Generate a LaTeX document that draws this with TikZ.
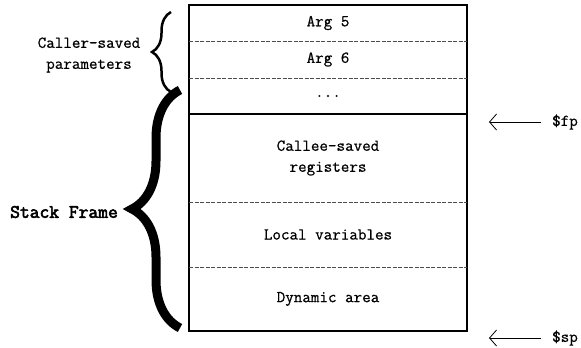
\documentclass[tikz,border=0pt]{standalone}
\usepackage{fontspec}
\newfontfamily\slotfont{Latin Modern Mono}[RawFeature={embolden=0.7}]
\newfontfamily\framefont{Latin Modern Mono}[RawFeature={embolden=3}]
\usetikzlibrary{positioning,decorations.pathreplacing,arrows.meta}

\tikzset{
	slot/.style={minimum width=278pt,inner sep=0pt,outer sep=0pt,align=center,font=\slotfont\fontsize{16.6}{21}\selectfont},
	divider/.style={dash pattern=on 4pt off 1.5pt,line width=0.6pt,gray!60!black},
	label/.style={align=center,font=\slotfont\fontsize{16.6}{21}\selectfont},
	ptr/.style={inner xsep=11pt,inner ysep=0pt,font=\slotfont\fontsize{16.6}{16}\selectfont},
	ptrarrow/.style={-{Straight Barb[length=7pt,width=16pt]},line width=0.8pt}
}

\begin{document}
\begin{tikzpicture}[x=1pt,y=-1pt]
	\useasboundingbox (0,0) rectangle (581,348);
	% stack slots
	\node[slot,minimum height=36pt] (arg5) at (328,23) {Arg 5};
	\node[slot,minimum height=37pt,below=0pt of arg5] (arg6) {Arg 6};
	\node[slot,minimum height=36pt,below=0pt of arg6] (more) {...};
	\node[slot,minimum height=88pt,below=0pt of more] (callee) {Callee-saved\\registers};
	\node[slot,minimum height=65pt,below=0pt of callee] (locals) {Local variables};
	\node[slot,minimum height=64pt,below=0pt of locals] (dyn) {Dynamic area};
	% outline and dividers
	\draw[line width=1.2pt] (arg5.north west) rectangle (dyn.south east);
	\draw[line width=1.2pt] (more.south west) -- (more.south east);
	\draw[divider] (arg5.south west) -- (arg5.south east);
	\draw[divider] (arg6.south west) -- (arg6.south east);
	\draw[divider] (callee.south west) -- (callee.south east);
	\draw[divider] (locals.south west) -- (locals.south east);
	% braces
	\draw[decorate,decoration={brace,amplitude=19pt},line width=2.5pt] (171,92) -- (171,12);
	\draw[decorate,decoration={brace,amplitude=48pt},line width=9pt] (180,328) -- (180,90);
	\node[label] (caller) at (89,55) {Caller-saved\\parameters};
	\node[label,font=\framefont\fontsize{19}{22}\selectfont] (frame) at (64,212) {Stack Frame};
	% pointers
	\coordinate (fp) at (489,122);
	\coordinate (sp) at (489,338);
	\node[ptr] (fplab) at (565,122) {\$fp};
	\node[ptr] (splab) at (565,338) {\$sp};
	\draw[ptrarrow] (fplab) -- (fp);
	\draw[ptrarrow] (splab) -- (sp);
\end{tikzpicture}
\end{document}
